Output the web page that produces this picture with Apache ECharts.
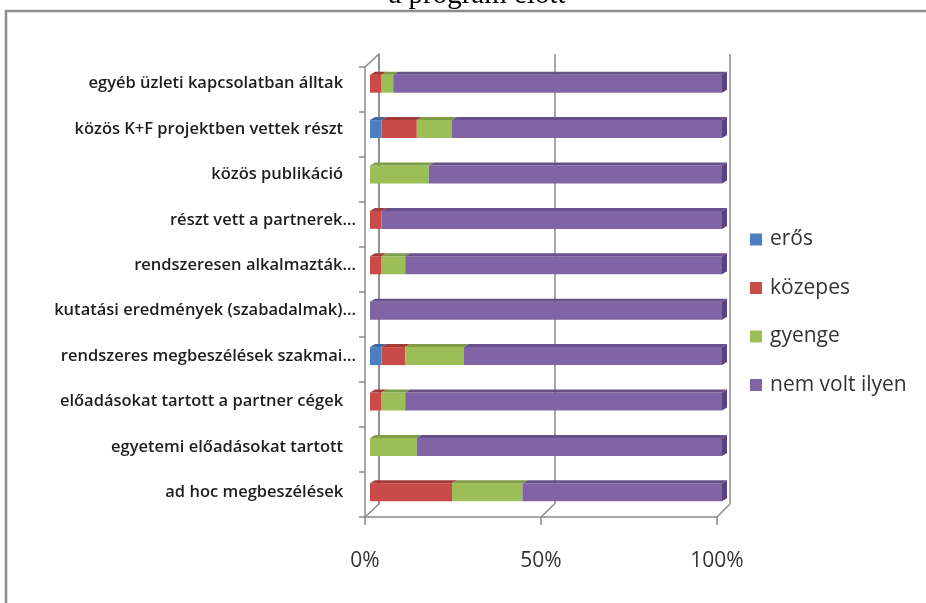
<!DOCTYPE html>
<html>
<head>
<meta charset="utf-8">
<script src="https://cdn.jsdelivr.net/npm/echarts@6/dist/echarts.min.js"></script>
<style>html,body{margin:0;padding:0;background:#fff;}#c{width:926px;height:603px;}</style>
</head>
<body>
<div id="c"></div>
<script>
const titleText = 'a program előtt';
const categories = [
  'egyéb üzleti kapcsolatban álltak   ',
  'közös K+F projektben vettek részt   ',
  'közös publikáció   ',
  'részt vett a partnerek...',
  'rendszeresen alkalmazták...',
  'kutatási eredmények (szabadalmak)...',
  'rendszeres megbeszélések szakmai...',
  'előadásokat tartott a partner cégek   ',
  'egyetemi előadásokat tartott   ',
  'ad hoc megbeszélések   '
];
const seriesNames = ['erős', 'közepes', 'gyenge', 'nem volt ilyen'];
const eros       = [0,   3.3, 0,    0,   0,   0,   3.3,  0,   0,    0];
const kozepes    = [3.3, 10,  0,    3.3, 3.3, 0,   6.7,  3.3, 0,    23.3];
const gyenge     = [3.3, 10,  16.7, 0,   6.7, 0,   16.7, 6.7, 13.3, 20];
const nemVolt    = [93.4,76.7,83.3, 96.7,90,  100, 73.3, 90,  86.7, 56.7];
const xTicks = [0, 50, 100];

const colors = ['#4A80C2', '#C94A47', '#9BBE57', '#8064A6'];
const topColors = ['#3B6AA3', '#A23B39', '#7F9D46', '#67508C'];
const sideColors = ['#335C8E', '#8C3331', '#6E893C', '#58447A'];

const values = [eros, kozepes, gyenge, nemVolt];
const cum = categories.map(() => 0);
const seriesData = values.map(arr => arr.map((v, i) => {
  const s = cum[i]; cum[i] += v; return [s, s + v, i, v];
}));

const DX = 5, DY = 3, H = 18;
function makeRender(k) {
  return function (params, api) {
    const v = api.value(3);
    if (!v) return null;
    const p0 = api.coord([api.value(0), api.value(2)]);
    const p1 = api.coord([api.value(1), api.value(2)]);
    const y0 = p0[1] - H / 2;
    const children = [
      { type: 'rect', shape: { x: p0[0], y: y0, width: p1[0] - p0[0], height: H }, style: { fill: colors[k] } },
      { type: 'polygon', shape: { points: [[p0[0], y0], [p1[0], y0], [p1[0] + DX, y0 - DY], [p0[0] + DX, y0 - DY]] }, style: { fill: topColors[k] } }
    ];
    if (api.value(1) >= 99.9) {
      children.push({ type: 'polygon', shape: { points: [[p1[0], y0], [p1[0] + DX, y0 - DY], [p1[0] + DX, y0 + H - DY], [p1[0], y0 + H]] }, style: { fill: sideColors[k] } });
    }
    return { type: 'group', children };
  };
}

const gridColor = '#8a8a8a';
const chart = echarts.init(document.getElementById('c'), null, { renderer: 'canvas' });
const option = {
  animation: false,
  backgroundColor: '#fff',
  title: {
    text: titleText, left: 472, textAlign: 'center', top: -24,
    textStyle: { fontFamily: 'Liberation Serif', fontSize: 29, fontWeight: 'normal', color: '#000' }
  },
  legend: {
    orient: 'vertical', left: 745, top: 224, itemWidth: 12, itemHeight: 12, itemGap: 27.5,
    icon: 'rect',
    data: seriesNames,
    textStyle: { fontFamily: 'Open Sans', fontSize: 21, color: '#333', lineHeight: 21, padding: [0, 0, 0, 3] }
  },
  grid: [
    // bars
    { left: 370, right: 204, top: 61, bottom: 88 },
    // front frame
    { left: 365, right: 209, top: 67, bottom: 86 },
    // back wall
    { left: 379, right: 196, top: 54, bottom: 99 }
  ],
  xAxis: [
    { gridIndex: 0, type: 'value', min: 0, max: 100, show: false },
    { gridIndex: 1, type: 'value', min: 0, max: 100, interval: 50,
      axisLine: { show: true, lineStyle: { color: gridColor, width: 1.5 } },
      axisTick: { show: true, length: 8, lineStyle: { color: gridColor, width: 1.5 } },
      splitLine: { show: false },
      axisLabel: { margin: 34, formatter: v => xTicks.includes(v) ? v + '%' : '', fontFamily: 'Open Sans', fontSize: 21, color: '#333' } },
    { gridIndex: 2, type: 'value', min: 0, max: 100, interval: 50,
      axisLine: { show: false }, axisTick: { show: false }, axisLabel: { show: false },
      splitLine: { show: true, lineStyle: { color: gridColor, width: 1.5 } } }
  ],
  yAxis: [
    { gridIndex: 0, type: 'category', inverse: true, data: categories,
      axisLine: { show: false }, axisTick: { show: false },
      axisLabel: { margin: 14, fontFamily: 'Open Sans', fontSize: 16.5, fontWeight: 600, color: '#1e1e1e' } },
    { gridIndex: 1, type: 'category', inverse: true, data: categories,
      axisLine: { show: true, lineStyle: { color: gridColor, width: 1.5 } },
      axisTick: { show: true, length: 6, lineStyle: { color: gridColor, width: 1.5 } },
      axisLabel: { show: false } },
    { gridIndex: 2, type: 'category', inverse: true, data: categories,
      axisLine: { show: true, lineStyle: { color: gridColor, width: 1.5 } },
      axisTick: { show: false }, axisLabel: { show: false } }
  ],
  series: seriesNames.map((name, k) => ({
    name, type: 'custom', xAxisIndex: 0, yAxisIndex: 0,
    itemStyle: { color: colors[k] },
    encode: { x: [0, 1], y: 2 },
    data: seriesData[k],
    renderItem: makeRender(k)
  }))
};
chart.setOption(option);

// frame decoration: outer border and 3D connectors between front frame and back wall
const gm = chart.getModel();
const fr = gm.getComponent('grid', 1).coordinateSystem.getRect();
const bk = gm.getComponent('grid', 2).coordinateSystem.getRect();
const lines = [];
xTicks.forEach(t => {
  const fx = chart.convertToPixel({ xAxisIndex: 1 }, t);
  const bx = chart.convertToPixel({ xAxisIndex: 2 }, t);
  lines.push({ type: 'line', shape: { x1: fx, y1: fr.y + fr.height, x2: bx, y2: bk.y + bk.height }, style: { stroke: gridColor, lineWidth: 1.5 } });
});
lines.push({ type: 'line', shape: { x1: fr.x, y1: fr.y, x2: bk.x, y2: bk.y }, style: { stroke: gridColor, lineWidth: 1.5 } });
lines.push({ type: 'rect', shape: { x: 6, y: 11, width: 1000, height: 800 }, style: { fill: null, stroke: '#8c8c8c', lineWidth: 2.5 } });
chart.setOption({ graphic: lines });
</script>
</body>
</html>
